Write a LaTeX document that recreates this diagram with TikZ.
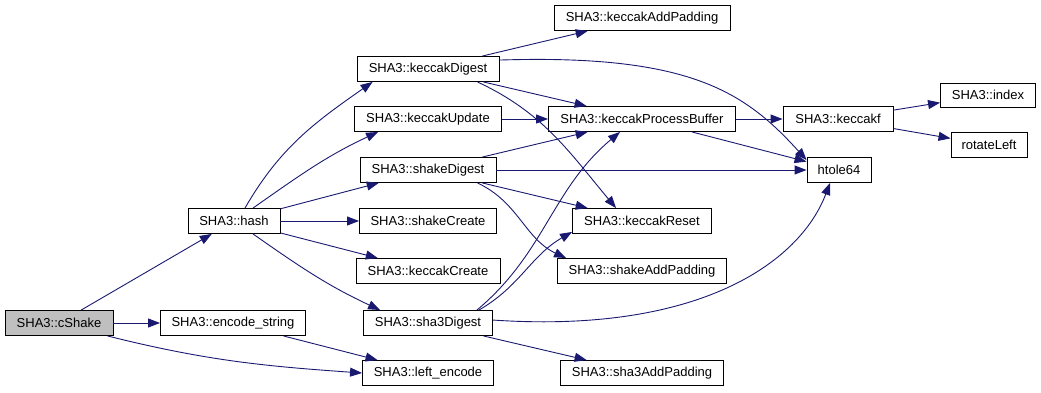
\documentclass[tikz,border=0pt]{standalone}
\usepackage{fontspec}
\setmainfont{Liberation Sans}
\usepackage{xcolor}
\usetikzlibrary{arrows.meta}

\definecolor{edgeblue}{RGB}{25,25,112}
\definecolor{curgray}{RGB}{191,191,191}

\begin{document}
\begin{tikzpicture}[
    x=1pt, y=1pt,
    >={Triangle[length=12pt,width=9pt]},
    fn/.style={draw=black, line width=0.9pt, fill=white, inner sep=0pt,
        minimum height=25pt, font=\fontsize{13}{15}\selectfont},
    call/.style={->, edgeblue, line width=0.9pt}
]
\useasboundingbox (0,0) rectangle (1041,392);

% ========== column 0 / 1 ==========
\node[fn, fill=curgray, minimum width=108pt] (cshake) at (59,69) {SHA3::cShake};
\node[fn, minimum width=92pt]  (hash)   at (234,171) {SHA3::hash};
\node[fn, minimum width=145pt] (encstr) at (233,69)  {SHA3::encode\_string};

% ========== column 2 ==========
\node[fn, minimum width=142pt] (kdigest)  at (428,323) {SHA3::keccakDigest};
\node[fn, minimum width=147pt] (kupdate)  at (428,273) {SHA3::keccakUpdate};
\node[fn, minimum width=136pt] (sdigest)  at (428,222) {SHA3::shakeDigest};
\node[fn, minimum width=137pt] (screate)  at (428,171) {SHA3::shakeCreate};
\node[fn, minimum width=144pt] (kcreate)  at (428,121) {SHA3::keccakCreate};
\node[fn, minimum width=129pt] (s3digest) at (428,69)  {SHA3::sha3Digest};
\node[fn, minimum width=131pt] (leftenc)  at (428,19)  {SHA3::left\_encode};

% ========== column 3 ==========
\node[fn, minimum width=176pt] (kaddpad)  at (642,374) {SHA3::keccakAddPadding};
\node[fn, minimum width=187pt] (kpbuf)    at (642,273) {SHA3::keccakProcessBuffer};
\node[fn, minimum width=139pt] (kreset)   at (642,171) {SHA3::keccakReset};
\node[fn, minimum width=169pt] (saddpad)  at (642,121) {SHA3::shakeAddPadding};
\node[fn, minimum width=163pt] (s3addpad) at (642,19)  {SHA3::sha3AddPadding};

% ========== column 4 / 5 ==========
\node[fn, minimum width=110pt] (keccakf) at (838,273) {SHA3::keccakf};
\node[fn, minimum width=64pt]  (htole)   at (839,222) {htole64};
\node[fn, minimum width=95pt, minimum height=24pt] (index) at (988,297) {SHA3::index};
\node[fn, minimum width=76pt]  (rotl)    at (989,247) {rotateLeft};

% ========== calls from cShake ==========
\draw[call] (cshake) -- (hash);
\draw[call] (cshake) -- (encstr);
\draw[call] ([xshift=-6pt]cshake.south east) to[out=-14,in=176] (leftenc.west);
\draw[call] (encstr) -- (leftenc);

% ========== calls from hash ==========
\draw[call] ([xshift=11pt]hash.north) to[out=60,in=-145] ([xshift=16pt]kdigest.south west);
\draw[call] ([xshift=19pt]hash.north) to[out=35,in=-155] ([xshift=24pt]kupdate.south west);
\draw[call] (hash) -- (sdigest);
\draw[call] (hash) -- (screate);
\draw[call] (hash) -- (kcreate);
\draw[call] ([xshift=19pt]hash.south) to[out=-35,in=155] ([xshift=17pt]s3digest.north west);

% ========== calls from keccakDigest ==========
\draw[call] (kdigest) -- (kaddpad);
\draw[call] (kdigest) -- (kpbuf);
\draw[call] ([xshift=-22pt]kdigest.south east) to[out=-25,in=130] ([xshift=44pt]kreset.north west);
\draw[call] ([yshift=-4pt]kdigest.north east) .. controls (690,338) and (745,300) .. ([yshift=-3pt]htole.north west);

% ========== calls from keccakUpdate / shakeDigest ==========
\draw[call] (kupdate) -- (kpbuf);
\draw[call] (sdigest) -- (kpbuf);
\draw[call] (sdigest) -- (htole);
\draw[call] (sdigest) -- (kreset);
\draw[call] ([xshift=-19pt]sdigest.south east) to[out=-25,in=155] ([xshift=9pt]saddpad.north west);

% ========== calls from sha3Digest ==========
\draw[call] ([xshift=-16pt]s3digest.north east) to[out=40,in=-140] ([xshift=-22pt]kpbuf.south);
\draw[call] ([xshift=-14pt]s3digest.north east) to[out=30,in=-150] ([yshift=2pt]kreset.south west);
\draw[call] ([yshift=-10pt]s3digest.north east) .. controls (700,58) and (800,130) .. ([xshift=-9pt]htole.south);
\draw[call] (s3digest) -- (s3addpad);

% ========== calls from keccakProcessBuffer / keccakf ==========
\draw[call] (kpbuf) -- (keccakf);
\draw[call] (kpbuf) -- (htole);
\draw[call] (keccakf) -- (index);
\draw[call] (keccakf) -- (rotl);

\end{tikzpicture}
\end{document}
